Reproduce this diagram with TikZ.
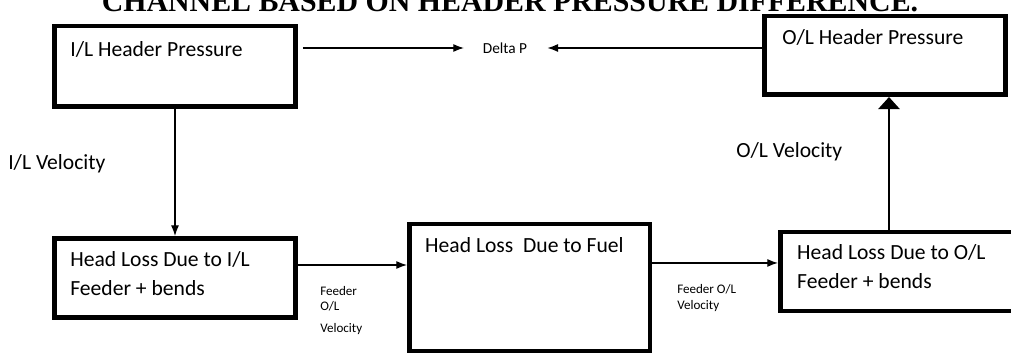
\documentclass[tikz,border=0pt]{standalone}
\usepackage{fontspec}
\setmainfont{Carlito}
\newfontfamily\titlefont{Liberation Serif}
\usetikzlibrary{positioning, arrows.meta, calc}
\tikzset{
  block/.style={draw, line width=3.4pt, inner sep=0pt},
  txt/.style={inner sep=0pt, align=left, font=\fontsize{16.2}{21.75}\selectfont},
  small/.style={inner sep=0pt, align=left, font=\fontsize{9.8}{11.25}\selectfont},
  arr/.style={-{Latex[length=8pt, width=6pt]}, line width=0.9pt},
  bigarr/.style={-{Triangle[length=9pt, width=16pt]}, line width=1.1pt}
}

\begin{document}
\begin{tikzpicture}[x=0.75pt, y=-0.75pt]
\useasboundingbox (0,0) rectangle (1011,356);
\clip (0,0) rectangle (1011,356);
\node[inner sep=0pt, anchor=base, font=\titlefont\bfseries\fontsize{22.4}{26}\selectfont] (title) at (510,12) {CHANNEL BASED ON HEADER PRESSURE DIFFERENCE.};
% boxes
\node[block, minimum width=181pt, minimum height=60.4pt] (ilhp) at (175,66.5) {};
\node[block, minimum width=181pt, minimum height=58.9pt] (olhp) at (885,55.5) {};
\node[block, minimum width=181pt, minimum height=59.6pt] (hlil) at (175,278) {};
\node[block, minimum width=180.4pt, minimum height=94.9pt] (hlfuel) at (529.5,287.5) {};
\node[block, minimum width=189.4pt, minimum height=58.9pt] (hlol) at (906.5,271.5) {};
% texts in the boxes
\node[txt, anchor=west] (ilhptext) at ([shift={(18,25)}]ilhp.north west) {I/L Header Pressure};
\node[txt, anchor=west] (olhptext) at ([shift={(20,23)}]olhp.north west) {O/L Header Pressure};
\node[txt, anchor=west] (hliltext) at ([shift={(18,37.5)}]hlil.north west) {Head Loss Due to I/L\\Feeder + bends};
\node[txt, anchor=west] (hlfueltext) at ([shift={(18,23)}]hlfuel.north west) {Head Loss\ \ Due to Fuel};
\node[txt, anchor=west] (hloltext) at ([shift={(19,37)}]hlol.north west) {Head Loss Due to O/L\\Feeder + bends};
% free labels
\node[txt, font=\fontsize{11.5}{14}\selectfont] (dp) at (505,48) {Delta P};
\node[txt, anchor=west] (ilvel) at (8,164) {I/L Velocity};
\node[txt, anchor=west] (olvel) at (736,152) {O/L Velocity};
\node[small, anchor=north west] (fdil) at (320,286) {Feeder\\O/L\\[5pt]Velocity};
\node[small, anchor=north west] (fdfuel) at (677,284) {Feeder O/L\\[1pt]Velocity};
% connectors
\draw[arr, shorten <=3.75pt, shorten >=14pt] (ilhp.east |- dp.west) -- (dp.west);
\draw[arr, shorten >=15pt] (olhp.west |- dp.east) -- (dp.east);
\draw[arr] (ilhp.south) -- (hlil.north);
\draw[arr] ([yshift=9.75pt]hlil.east) -- ([yshift=9.75pt]hlil.east -| hlfuel.west);
\draw[arr] ([yshift=18.4pt]hlfuel.east) -- ([yshift=18.4pt]hlfuel.east -| hlol.west);
\draw[bigarr] ([xshift=3pt]hlol.north -| olhp.south) -- ([xshift=3pt]olhp.south);
\end{tikzpicture}
\end{document}
